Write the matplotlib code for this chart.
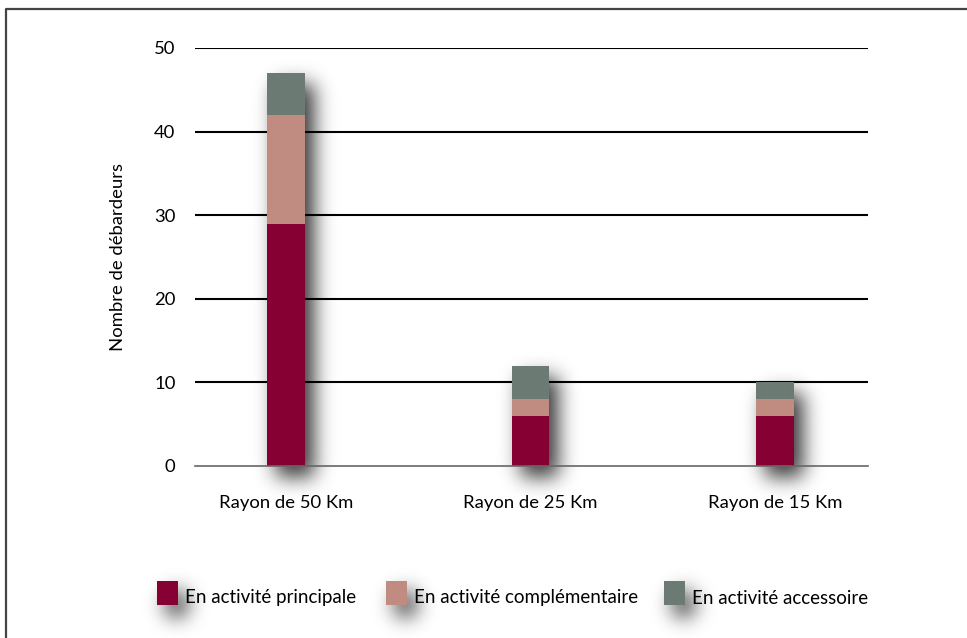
import matplotlib
matplotlib.use("Agg")
import matplotlib.pyplot as plt
import matplotlib.patches as patches
from matplotlib.lines import Line2D
import numpy as np

plt.rcParams['font.family'] = ['Lato', 'DejaVu Sans']

# données
rayons = ["Rayon de 50 Km", "Rayon de 25 Km", "Rayon de 15 Km"]
principale = [29, 6, 6]
complementaire = [13, 2, 2]
accessoire = [5, 4, 2]
series_noms = ["En activité principale", "En activité complémentaire", "En activité accessoire"]
couleurs = ['#860033', '#C08C82', '#6B7A73']
yticks = [0, 10, 20, 30, 40, 50]

W, H = 967, 638
fig = plt.figure(figsize=(W / 100, H / 100), dpi=100)
ax = fig.add_axes([195 / W, 1 - 466 / H, (868 - 195) / W, (466 - 48) / H])
ax.patch.set_visible(False)

x = list(range(len(rayons)))
largeur = 0.155

# lignes horizontales
for v in yticks[1:]:
    ax.axhline(v, color='black', linewidth=1.5, zorder=2)

bas = [0, 0, 0]
piles = []
for vals, c in zip([principale, complementaire, accessoire], couleurs):
    piles.append(ax.bar(x, vals, largeur, bottom=bas, color=c, linewidth=0, zorder=3))
    bas = [b + v for b, v in zip(bas, vals)]

ax.set_xlim(-0.372, 2.38)
ax.set_ylim(0, 50)
ax.set_yticks(yticks)
ax.set_xticks(x)
ax.set_xticklabels(rayons)
ax.tick_params(axis='both', length=0, labelsize=13.3)
ax.tick_params(axis='y', pad=14)
ax.tick_params(axis='x', pad=21)
for s in ['top', 'right', 'left']:
    ax.spines[s].set_visible(False)
ax.spines['bottom'].set_color('#666666')
ax.spines['bottom'].set_linewidth(1.2)
ax.spines['bottom'].set_zorder(4)
ax.set_ylabel("Nombre de débardeurs", fontsize=13.3, labelpad=20)

# légende
leg_x = [157, 386, 664]
carres = []
for lx, nom, c in zip(leg_x, series_noms, couleurs):
    r = patches.Rectangle((lx / W, 1 - 605 / H), 21 / W, 24 / H,
                          transform=fig.transFigure, facecolor=c, linewidth=0)
    fig.patches.append(r)
    carres.append(r)
    fig.text((lx + 28) / W, 1 - 598 / H, nom, fontsize=13.5, va='center', ha='left')

# ombres floues sous les barres et les carres
renderer = fig.canvas.get_renderer()
masque = np.zeros((H, W))
dx, dy = 9, 11
boites = []
for i in range(len(x)):
    b0 = piles[0][i].get_window_extent(renderer)
    b1 = piles[-1][i].get_window_extent(renderer)
    boites.append((b0.x0, b0.y0, b1.x1, b1.y1))
for r in carres:
    bb = r.get_window_extent(renderer)
    boites.append((bb.x0, bb.y0, bb.x1, bb.y1))
for x0, y0, x1, y1 in boites:
    c0, c1 = int(round(x0)) + dx, int(round(x1)) + dx
    r0, r1 = int(round(H - y1)) + dy, int(round(H - y0)) + dy
    masque[max(r0, 0):min(r1, H), c0:c1] = 1.0

sigma = 10
t = np.arange(-35, 36)
noyau = np.exp(-t ** 2 / (2 * sigma ** 2))
noyau /= noyau.sum()
masque = np.apply_along_axis(lambda m: np.convolve(m, noyau, mode='same'), 1, masque)
masque = np.apply_along_axis(lambda m: np.convolve(m, noyau, mode='same'), 0, masque)

img = np.zeros((H, W, 4))
img[..., 3] = np.clip(0.8 * masque, 0, 1)
fig.figimage(img, xo=0, yo=0, origin='upper', zorder=-1)

# cadre
fig.lines.append(Line2D([6 / W, 6 / W, 1], [0, 1 - 9 / H, 1 - 9 / H],
                        transform=fig.transFigure, color='#444444', linewidth=1.6))

plt.savefig("out.png", dpi=100)
